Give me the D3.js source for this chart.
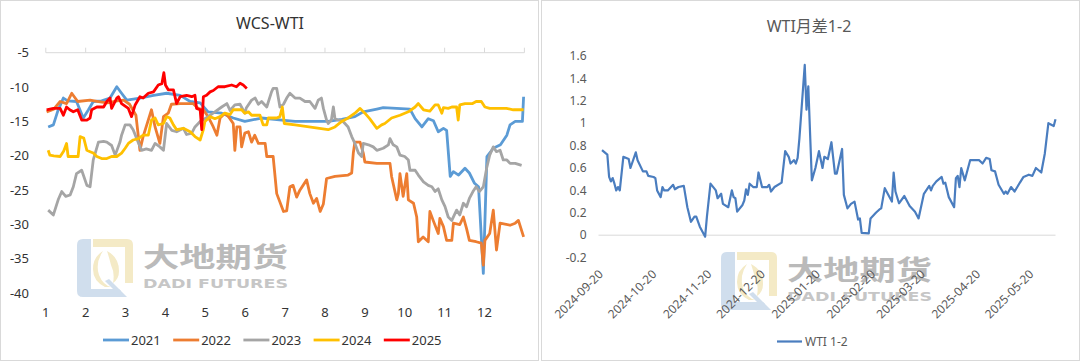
<!DOCTYPE html>
<html>
<head>
<meta charset="UTF-8">
<script src="https://cdnjs.cloudflare.com/ajax/libs/d3/7.8.5/d3.min.js"></script>
<style>
    body { margin: 0; background: #fff; }
    svg { font-family: "Noto Sans", "Noto Sans CJK SC", sans-serif; }
</style>
</head>
<body>
<svg id="svg" width="1080" height="361"></svg>
<script>
// ---- left chart: WCS-WTI by year, x = month position (1 = start of Jan)
var years = ["2021", "2022", "2023", "2024", "2025"];
var yearColors = ["#5b9bd5", "#ed7d31", "#a5a5a5", "#ffc000", "#ff0000"];
var monthLabels = ["1", "2", "3", "4", "5", "6", "7", "8", "9", "10", "11", "12"];
var leftTicks = [-5, -10, -15, -20, -25, -30, -35, -40];

var s2021 = [[1.06,-15.8],[1.19,-15.5],[1.3,-13.5],[1.44,-11.6],[1.55,-12],[1.77,-12.1],[1.94,-14.5],[2.07,-13.3],[2.19,-12.1],[2.4,-12],[2.61,-11.6],[2.78,-9.95],[2.9,-10.9],[3.03,-11.9],[3.36,-11.6],[3.7,-11.2],[4.03,-10.9],[4.37,-11.2],[4.62,-12.1],[4.87,-12.3],[5.07,-13.6],[5.41,-13.8],[5.7,-14.5],[5.99,-15.0],[6.41,-14.5],[6.92,-14.8],[7.25,-15],[7.75,-15],[8.08,-15],[8.42,-14.7],[8.75,-14.3],[8.96,-13.6],[9.3,-13.2],[9.46,-13],[10.13,-13.2],[10.26,-14.6],[10.43,-15.8],[10.59,-14.6],[10.72,-14.9],[10.84,-16.5],[10.97,-16.0],[11.05,-16.3],[11.14,-23.0],[11.22,-22.3],[11.35,-22.8],[11.51,-21.8],[11.62,-22.5],[11.75,-24.0],[11.85,-24.5],[11.97,-37.1],[12.06,-20.1],[12.22,-18.9],[12.4,-18.4],[12.56,-17.0],[12.64,-15.5],[12.77,-15.0],[12.95,-15.0],[12.98,-11.4]];
var s2022 = [[1.02,-13.6],[1.2,-13.2],[1.36,-12.1],[1.52,-12.4],[1.65,-10.9],[1.8,-12.1],[2.11,-11.9],[2.32,-12.1],[2.55,-12.3],[2.79,-12],[2.95,-11.9],[3.1,-12.5],[3.26,-14.1],[3.36,-19.2],[3.44,-17.2],[3.65,-13.3],[3.74,-15.8],[3.86,-18.2],[3.95,-14.3],[4.07,-13.8],[4.15,-12.5],[4.37,-12.4],[4.69,-12.4],[4.82,-13.1],[4.95,-13.3],[5.07,-14.3],[5.2,-15.8],[5.29,-17.0],[5.37,-14.5],[5.49,-13.8],[5.58,-14.3],[5.7,-15.3],[5.74,-19.2],[5.79,-15.8],[5.87,-15.8],[5.91,-18.7],[5.99,-16.7],[6.08,-16.5],[6.16,-18],[6.24,-17],[6.33,-18.2],[6.5,-18.2],[6.54,-20.1],[6.7,-20.1],[6.79,-25.5],[6.96,-28.1],[7.04,-28],[7.12,-24.5],[7.2,-24.3],[7.29,-26],[7.37,-25],[7.54,-23.5],[7.62,-25.5],[7.71,-26.9],[7.79,-26.2],[7.88,-28.1],[7.96,-27],[8.04,-23.3],[8.25,-23.0],[8.58,-22.8],[8.67,-22.5],[8.71,-19.6],[8.75,-18],[8.88,-18],[8.96,-19.6],[9.0,-20.9],[9.3,-21.1],[9.63,-21.1],[9.67,-23.0],[9.8,-26.4],[9.84,-25.5],[9.88,-22.6],[9.96,-25.9],[10.05,-22.6],[10.09,-26.4],[10.22,-26.9],[10.3,-28.9],[10.34,-32.5],[10.46,-31.8],[10.59,-32.5],[10.63,-28.1],[10.72,-29.5],[10.84,-31.3],[10.88,-29.1],[10.97,-30.3],[11.05,-32.3],[11.18,-32.3],[11.22,-29.8],[11.38,-30.0],[11.47,-28.9],[11.55,-30.6],[11.62,-32.3],[11.79,-32.5],[11.92,-32.7],[11.97,-35.9],[12.01,-32.3],[12.13,-31.3],[12.22,-27.9],[12.3,-33.7],[12.39,-29.8],[12.64,-30.1],[12.77,-29.8],[12.85,-29.4],[12.98,-31.8]];
var s2023 = [[1.06,-27.9],[1.19,-28.6],[1.31,-26.4],[1.4,-25.2],[1.5,-25.9],[1.61,-25.7],[1.69,-24.5],[1.77,-22.6],[1.9,-22.1],[2.03,-24.3],[2.11,-24.5],[2.19,-20.6],[2.32,-18],[2.45,-17.9],[2.53,-18],[2.65,-18.5],[2.74,-19.9],[2.86,-18],[2.9,-17],[2.99,-15.5],[3.11,-15.5],[3.19,-16.2],[3.28,-17.5],[3.4,-19.2],[3.52,-19],[3.65,-19.2],[3.74,-18.2],[3.86,-18.7],[3.95,-19.2],[4.03,-15.3],[4.16,-16.3],[4.28,-16.5],[4.45,-16.0],[4.53,-16.9],[4.66,-16.7],[4.74,-15.8],[4.87,-15.0],[5.07,-14.3],[5.24,-13.6],[5.41,-12.9],[5.54,-12.4],[5.62,-13.4],[5.74,-12.6],[5.87,-12.5],[5.99,-13.8],[6.03,-13],[6.16,-11.9],[6.25,-11.6],[6.33,-12.5],[6.41,-12.1],[6.54,-12.9],[6.66,-10.7],[6.7,-10.2],[6.79,-10.2],[6.87,-12.9],[6.96,-12.5],[7.04,-11.6],[7.12,-10.9],[7.25,-11.6],[7.37,-11.6],[7.5,-12.1],[7.62,-12.1],[7.75,-13.1],[7.83,-11.9],[7.91,-11.6],[7.96,-13.1],[8.04,-14.8],[8.08,-15.3],[8.16,-14.8],[8.21,-12.9],[8.25,-14.6],[8.33,-14.8],[8.42,-14.8],[8.5,-15.3],[8.58,-15.8],[8.67,-17.2],[8.75,-18.2],[8.84,-19.6],[8.92,-20.1],[8.96,-18.2],[9.09,-18.4],[9.21,-18.7],[9.3,-19.2],[9.46,-18.9],[9.59,-18.4],[9.63,-17.5],[9.71,-18.4],[9.8,-18.7],[9.88,-19.9],[10.0,-20.1],[10.09,-20.6],[10.13,-22.1],[10.26,-22.1],[10.34,-22.8],[10.47,-23.8],[10.59,-24.3],[10.68,-24.5],[10.76,-25.2],[10.84,-24.8],[10.93,-26.4],[11.01,-27.4],[11.09,-28.9],[11.18,-29.4],[11.3,-27.9],[11.38,-28.6],[11.47,-26.9],[11.55,-27.4],[11.62,-26.2],[11.71,-25.2],[11.79,-24.5],[11.87,-25.2],[11.97,-24.5],[12.06,-21.6],[12.13,-19.9],[12.22,-18.7],[12.3,-19.4],[12.39,-19.2],[12.47,-20.6],[12.56,-20.6],[12.64,-21.1],[12.77,-21.1],[12.93,-21.4]];
var s2024 = [[1.06,-19.2],[1.1,-19.9],[1.2,-20],[1.36,-20.1],[1.45,-19.3],[1.52,-18.2],[1.56,-20.1],[1.7,-20.1],[1.81,-20.1],[1.86,-17.2],[1.95,-17.4],[2.03,-19.2],[2.11,-19.4],[2.19,-19.6],[2.28,-20.1],[2.4,-20.4],[2.53,-20.4],[2.65,-20.1],[2.78,-20.1],[2.9,-19.6],[2.99,-18.9],[3.07,-18.2],[3.19,-17.7],[3.32,-17.5],[3.44,-17.0],[3.57,-17.0],[3.65,-14.8],[3.74,-14.5],[3.82,-15.5],[3.95,-15.3],[4.03,-14.3],[4.11,-14.5],[4.2,-15.5],[4.28,-16.2],[4.45,-16.0],[4.62,-16.5],[4.74,-17.2],[4.87,-17.7],[4.95,-16.2],[4.99,-15],[5.12,-14.3],[5.24,-14.6],[5.37,-14.3],[5.49,-13.8],[5.62,-14.0],[5.7,-13.3],[5.91,-13.3],[5.99,-13.8],[6.08,-13.6],[6.16,-14.1],[6.37,-14.1],[6.45,-15.5],[6.54,-15.5],[6.58,-14.5],[6.79,-14.5],[6.87,-14.3],[6.93,-12.9],[6.98,-15.3],[7.25,-15.5],[8.08,-16.2],[8.25,-15.8],[8.42,-15],[8.58,-14.5],[8.75,-13.8],[8.88,-13.1],[9.0,-13.8],[9.12,-14.6],[9.3,-16.0],[9.42,-15.5],[9.5,-15.3],[9.67,-14.5],[9.88,-14.1],[10.09,-13.6],[10.26,-12.9],[10.34,-12.4],[10.47,-13.3],[10.63,-13.5],[10.76,-12.6],[10.84,-12.6],[10.93,-13.8],[10.97,-13.0],[11.09,-13.1],[11.18,-12.9],[11.3,-12.9],[11.34,-14.8],[11.38,-12.6],[11.51,-12.4],[11.7,-12.4],[11.79,-12.1],[11.92,-12.1],[12.01,-12.9],[12.13,-13.1],[12.3,-13.1],[12.55,-13.1],[12.72,-13.3],[12.98,-13.3]];
var s2025 = [[1.02,-13.3],[1.19,-13.1],[1.36,-13.1],[1.44,-14.1],[1.52,-12.9],[1.6,-13.3],[1.69,-13.6],[1.8,-13.3],[1.9,-14.8],[2.03,-14.8],[2.11,-14.5],[2.15,-13.3],[2.28,-12.9],[2.45,-12.9],[2.53,-12.1],[2.61,-11.6],[2.65,-13.1],[2.78,-11.6],[2.82,-11.4],[2.9,-12.4],[3.07,-13.1],[3.15,-14.3],[3.24,-12.6],[3.36,-11.4],[3.44,-11.6],[3.57,-10.9],[3.7,-10.7],[3.82,-9.7],[3.91,-9.5],[3.96,-7.9],[4.0,-9.7],[4.07,-10.4],[4.2,-10.4],[4.28,-12.4],[4.37,-11.4],[4.53,-11.2],[4.66,-11.4],[4.74,-11.2],[4.78,-13.1],[4.87,-13.3],[4.91,-16.2],[4.95,-11.4],[5.03,-11.2],[5.12,-10.7],[5.2,-10.5],[5.32,-9.95],[5.49,-9.95],[5.66,-9.7],[5.78,-9.95],[5.87,-9.45],[5.95,-9.7],[6.04,-10.2]];
var yearSeries = [s2021, s2022, s2023, s2024, s2025];

// ---- right chart: WTI 1-2 spread
var dateLabels = ["2024-09-20", "2024-10-20", "2024-11-20", "2024-12-20", "2025-01-20", "2025-02-20", "2025-03-20", "2025-04-20", "2025-05-20"];
var rightTicks = [1.6, 1.4, 1.2, 1, 0.8, 0.6, 0.4, 0.2, 0, -0.2];
var wtiDates = ["2024-09-20","2024-09-23","2024-09-24","2024-09-25","2024-09-26","2024-09-27","2024-09-28","2024-09-29","2024-09-30","2024-10-02","2024-10-05","2024-10-06","2024-10-09","2024-10-10","2024-10-13","2024-10-15","2024-10-16","2024-10-19","2024-10-20","2024-10-21","2024-10-23","2024-10-24","2024-10-25","2024-10-27","2024-10-30","2024-10-31","2024-11-02","2024-11-05","2024-11-07","2024-11-09","2024-11-11","2024-11-12","2024-11-14","2024-11-17","2024-11-18","2024-11-20","2024-11-23","2024-11-24","2024-11-26","2024-11-27","2024-11-30","2024-12-02","2024-12-03","2024-12-04","2024-12-05","2024-12-08","2024-12-09","2024-12-10","2024-12-11","2024-12-12","2024-12-14","2024-12-16","2024-12-17","2024-12-19","2024-12-22","2024-12-23","2024-12-24","2024-12-26","2024-12-30","2025-01-01","2025-01-03","2025-01-04","2025-01-06","2025-01-07","2025-01-08","2025-01-09","2025-01-12","2025-01-13","2025-01-14","2025-01-16","2025-01-18","2025-01-20","2025-01-22","2025-01-23","2025-01-25","2025-01-27","2025-01-29","2025-01-30","2025-02-02","2025-02-03","2025-02-05","2025-02-07","2025-02-09","2025-02-11","2025-02-12","2025-02-13","2025-02-17","2025-02-18","2025-02-21","2025-02-23","2025-02-24","2025-02-26","2025-03-02","2025-03-03","2025-03-04","2025-03-06","2025-03-09","2025-03-12","2025-03-15","2025-03-17","2025-03-20","2025-03-23","2025-03-24","2025-03-25","2025-03-27","2025-03-30","2025-03-31","2025-04-01","2025-04-03","2025-04-06","2025-04-07","2025-04-08","2025-04-09","2025-04-10","2025-04-12","2025-04-15","2025-04-20","2025-04-22","2025-04-24","2025-04-26","2025-04-27","2025-04-29","2025-05-01","2025-05-04","2025-05-05","2025-05-06","2025-05-08","2025-05-10","2025-05-13","2025-05-15","2025-05-18","2025-05-20","2025-05-22","2025-05-25","2025-05-27","2025-05-29","2025-06-01","2025-06-02"];
var wtiValues = [0.76,0.72,0.52,0.48,0.51,0.46,0.40,0.43,0.40,0.70,0.68,0.60,0.74,0.67,0.57,0.57,0.53,0.52,0.51,0.40,0.34,0.43,0.40,0.40,0.45,0.41,0.43,0.44,0.25,0.12,0.165,0.165,0.076,-0.013,0.165,0.46,0.40,0.33,0.37,0.28,0.25,0.40,0.34,0.33,0.21,0.27,0.31,0.41,0.36,0.46,0.43,0.43,0.56,0.43,0.43,0.45,0.39,0.43,0.47,0.75,0.70,0.64,0.67,0.64,0.69,0.865,1.52,1.12,1.33,0.49,0.60,0.75,0.60,0.70,0.68,0.83,0.55,0.55,0.77,0.36,0.24,0.28,0.30,0.14,0.15,0.02,0.017,0.15,0.20,0.23,0.24,0.42,0.30,0.56,0.39,0.285,0.35,0.26,0.21,0.15,0.37,0.44,0.40,0.44,0.48,0.52,0.46,0.47,0.34,0.25,0.51,0.53,0.43,0.60,0.49,0.67,0.67,0.64,0.69,0.68,0.58,0.57,0.45,0.37,0.39,0.37,0.43,0.39,0.47,0.52,0.54,0.53,0.60,0.56,0.73,1.00,0.975,1.035];

var svg = d3.select("#svg");
var parse = d3.timeParse("%Y-%m-%d");

// panel frames
svg.append("rect").attr("x", 0.5).attr("y", 0.5).attr("width", 538).attr("height", 360).attr("fill", "#fff").attr("stroke", "#d9d9d9");
svg.append("rect").attr("x", 541.5).attr("y", 0.5).attr("width", 538).attr("height", 360).attr("fill", "#fff").attr("stroke", "#d9d9d9");

// watermark (logo + company name)
function watermark(g, x0, y0) {
    var w = g.append("g").attr("transform", "translate(" + x0 + "," + y0 + ")").attr("opacity", 0.9);
    // yellow top and right
    w.append("path").attr("d", "M16,0 H50 Q56,0 56,6 V44 H48 V8 H16 Z").attr("fill", "#f3e8c0");
    // blue left and bottom
    w.append("path").attr("d", "M6,0 H14 V50 H42 L50,58 H6 Q0,58 0,52 V6 Q0,0 6,0 Z").attr("fill", "#ccdbec");
    // inner arcs
    w.append("path").attr("d", "M26,12 Q18,24 22,36 Q26,46 34,48 L28,48 Q16,42 16,30 Q16,18 26,12 Z").attr("fill", "#f3e8c0");
    w.append("path").attr("d", "M30,12 Q42,18 42,32 Q42,40 36,44 Q38,34 34,26 Q32,18 30,12 Z").attr("fill", "#f3e8c0");
    w.append("path").attr("d", "M32,40 L44,52 L38,52 L28,42 Z").attr("fill", "#ccdbec");
    w.append("text").attr("x", 66).attr("y", 28).attr("font-size", 27).attr("font-weight", "bold")
        .attr("font-family", "Noto Sans CJK SC").attr("fill", "#b3b3b3")
        .attr("textLength", 145).attr("lengthAdjust", "spacingAndGlyphs").text("大地期货");
    w.append("text").attr("x", 66).attr("y", 48.5).attr("font-size", 11.5).attr("font-weight", "bold")
        .attr("font-family", "DejaVu Sans").attr("fill", "#c0c0c0")
        .attr("textLength", 145).attr("lengthAdjust", "spacingAndGlyphs").text("DADI FUTURES");
}
watermark(svg, 77, 239);
watermark(svg, 721, 252);

// ---------- left chart
var xL = d3.scaleLinear().domain([1, 13]).range([45.8, 524.4]);
var yL = d3.scaleLinear().domain([-40, -5]).range([293.3, 52.7]);
var gL = svg.append("g");

gL.append("text").attr("x", 270).attr("y", 29).attr("text-anchor", "middle")
    .attr("font-size", 16).attr("fill", "#333").text("WCS-WTI");

// category axis drawn at the top (-5)
gL.append("line").attr("x1", xL(1)).attr("x2", xL(13)).attr("y1", yL(-5)).attr("y2", yL(-5))
    .attr("stroke", "#d9d9d9");
d3.range(1, 14).forEach(function (m) {
    gL.append("line").attr("x1", xL(m)).attr("x2", xL(m)).attr("y1", yL(-5)).attr("y2", yL(-5) - 5)
        .attr("stroke", "#d9d9d9");
});
gL.selectAll(".ml").data(monthLabels).enter().append("text")
    .attr("x", function (d, i) { return xL(i + 1); }).attr("y", 316.5)
    .attr("text-anchor", "middle").attr("font-size", 13).attr("fill", "#333").text(function (d) { return d; });
gL.selectAll(".yl").data(leftTicks).enter().append("text")
    .attr("x", 29).attr("y", function (d) { return yL(d); }).attr("dy", "0.35em")
    .attr("text-anchor", "end").attr("font-size", 13).attr("fill", "#333").text(function (d) { return d; });

var lineL = d3.line().x(function (d) { return xL(d[0]); }).y(function (d) { return yL(d[1]); });
yearSeries.forEach(function (s, i) {
    gL.append("path").attr("d", lineL(s)).attr("fill", "none").attr("stroke", yearColors[i])
        .attr("stroke-width", 2.8).attr("stroke-linejoin", "round");
});

years.forEach(function (y, i) {
    var lx = 103 + i * 70.2;
    gL.append("line").attr("x1", lx).attr("x2", lx + 26).attr("y1", 340).attr("y2", 340)
        .attr("stroke", yearColors[i]).attr("stroke-width", 2.8);
    gL.append("text").attr("x", lx + 28).attr("y", 340).attr("dy", "0.35em")
        .attr("font-size", 13).attr("fill", "#333").text(y);
});

// ---------- right chart
var xR = d3.scaleTime().domain([parse("2024-09-20"), parse("2025-06-02")]).range([602, 1055.5]);
var yR = d3.scaleLinear().domain([-0.2, 1.6]).range([257.6, 56]);
var gR = svg.append("g");

gR.append("text").attr("x", 809).attr("y", 32).attr("text-anchor", "middle")
    .attr("font-size", 16).attr("fill", "#595959").text("WTI月差1-2");

gR.append("line").attr("x1", 598.5).attr("x2", 1055.5).attr("y1", yR(0)).attr("y2", yR(0))
    .attr("stroke", "#d9d9d9");
gR.selectAll(".yr").data(rightTicks).enter().append("text")
    .attr("x", 586.5).attr("y", function (d) { return yR(d); }).attr("dy", "0.35em")
    .attr("text-anchor", "end").attr("font-size", 12).attr("fill", "#595959").text(function (d) { return d; });
gR.selectAll(".xr").data(dateLabels).enter().append("text")
    .attr("transform", function (d) { return "translate(" + (xR(parse(d)) - 1) + ",272) rotate(-45)"; })
    .attr("dy", "0.35em").attr("text-anchor", "end").attr("font-size", 12).attr("fill", "#595959")
    .text(function (d) { return d; });

var wti = wtiDates.map(function (d, i) { return { date: parse(d), value: wtiValues[i] }; });
var lineR = d3.line().x(function (d) { return xR(d.date); }).y(function (d) { return yR(d.value); });
gR.append("path").attr("d", lineR(wti)).attr("fill", "none").attr("stroke", "#4a7dbf")
    .attr("stroke-width", 2.2).attr("stroke-linejoin", "round");

gR.append("line").attr("x1", 777).attr("x2", 802).attr("y1", 341.5).attr("y2", 341.5)
    .attr("stroke", "#4a7dbf").attr("stroke-width", 2.2);
gR.append("text").attr("x", 805).attr("y", 341.5).attr("dy", "0.35em")
    .attr("font-size", 12).attr("fill", "#595959").text("WTI 1-2");
</script>
</body>
</html>
